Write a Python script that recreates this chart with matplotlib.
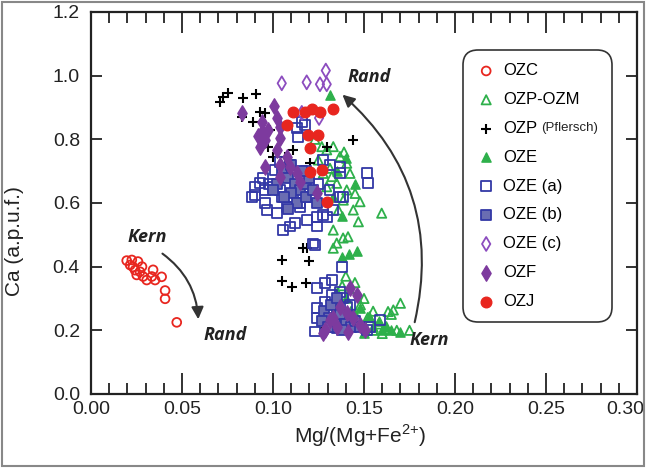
import matplotlib.pyplot as plt
import numpy as np
from matplotlib.patches import FancyArrowPatch, Rectangle
from matplotlib.ticker import MultipleLocator
from matplotlib.transforms import ScaledTranslation

plt.rcParams['font.family'] = ['Liberation Sans', 'DejaVu Sans']
plt.rcParams['mathtext.fontset'] = 'custom'
plt.rcParams['mathtext.rm'] = 'Liberation Sans'

# OZC - open red circles (Kern -> Rand, low Mg)
ozc_x = [0.0196, 0.0224, 0.0258, 0.0231, 0.0242, 0.0269, 0.0306, 0.0334, 0.0352,
         0.0388, 0.0341, 0.0407, 0.0407, 0.0471, 0.0251, 0.0286, 0.0280, 0.0215]
ozc_y = [0.419, 0.421, 0.416, 0.399, 0.389, 0.384, 0.358, 0.369, 0.358,
         0.368, 0.390, 0.325, 0.299, 0.225, 0.374, 0.369, 0.400, 0.405]

# OZP-OZM - open green triangles
ozpm_x = [0.1268, 0.1331, 0.1405, 0.1423, 0.1478, 0.1451, 0.1597, 0.1469, 0.1350,
          0.1386, 0.1295, 0.1323, 0.1276, 0.1405, 0.1359, 0.1441, 0.1331, 0.1295,
          0.1368, 0.1249, 0.1313, 0.1230, 0.1390,
          0.1412, 0.1331, 0.1350, 0.1385, 0.1661, 0.1632, 0.140, 0.145, 0.142,
          0.150, 0.148, 0.155, 0.152, 0.158, 0.162, 0.165, 0.168, 0.160, 0.155,
          0.147, 0.143, 0.138, 0.135, 0.175, 0.170]
ozpm_y = [0.777, 0.777, 0.725, 0.693, 0.604, 0.630, 0.568, 0.541, 0.662,
          0.609, 0.651, 0.683, 0.693, 0.641, 0.578, 0.578, 0.515, 0.767,
          0.746, 0.735, 0.709, 0.800, 0.760,
          0.494, 0.458, 0.474, 0.490, 0.264, 0.259, 0.37, 0.35, 0.33,
          0.30, 0.28, 0.26, 0.24, 0.22, 0.21, 0.25, 0.20, 0.19, 0.20,
          0.22, 0.26, 0.34, 0.27, 0.20, 0.285]

# OZP (Pflersch) - black plus
ozp_x = [0.0709, 0.0727, 0.0754, 0.0837, 0.0907, 0.0828, 0.0892, 0.0929, 0.0956,
         0.0984, 0.0974, 0.1002, 0.1066, 0.1084, 0.1112, 0.1203, 0.1295, 0.1441,
         0.1166, 0.1185, 0.1048, 0.1199, 0.1048, 0.1103, 0.1181, 0.1286]
ozp_y = [0.918, 0.934, 0.945, 0.929, 0.943, 0.871, 0.855, 0.887, 0.882,
         0.829, 0.777, 0.746, 0.746, 0.845, 0.767, 0.725, 0.777, 0.798,
         0.458, 0.459, 0.421, 0.419, 0.356, 0.337, 0.350, 0.206]

# OZE - filled green triangles
oze_x = [0.1313, 0.140, 0.135, 0.145, 0.138, 0.146, 0.142, 0.138, 0.133,
         0.150, 0.155, 0.160, 0.145, 0.140, 0.135, 0.148, 0.158, 0.165,
         0.170, 0.150, 0.153, 0.162]
oze_y = [0.939, 0.740, 0.700, 0.660, 0.560, 0.450, 0.440, 0.430, 0.620,
         0.220, 0.210, 0.200, 0.250, 0.300, 0.320, 0.270, 0.230, 0.200,
         0.195, 0.190, 0.245, 0.215]

# OZE (a) - open blue squares
ozea_x = [0.1130, 0.1176, 0.1137, 0.1276, 0.1313, 0.1368, 0.1368, 0.1515, 0.1038,
          0.1093, 0.1011, 0.0947, 0.0901, 0.0901, 0.0956, 0.1002, 0.1038, 0.0956,
          0.1020, 0.0965, 0.1075, 0.1112, 0.1148, 0.1203, 0.1240, 0.1185, 0.1121,
          0.1057, 0.1093, 0.1240, 0.1295, 0.1386, 0.1331, 0.1524, 0.1221, 0.0883,
          0.0929, 0.1158, 0.1368, 0.1276, 0.1148, 0.1050, 0.0980, 0.1100, 0.1180,
          0.1250, 0.1310,
          0.1231, 0.1377, 0.1323, 0.1286, 0.1240, 0.1323, 0.1368, 0.1286, 0.1240,
          0.1350, 0.1240, 0.1231, 0.1295, 0.1405, 0.1588, 0.1515, 0.1350, 0.1386,
          0.1423, 0.1331, 0.1533]
ozea_y = [0.835, 0.845, 0.808, 0.735, 0.719, 0.714, 0.694, 0.693, 0.730,
          0.719, 0.704, 0.678, 0.651, 0.625, 0.641, 0.651, 0.641, 0.599,
          0.568, 0.578, 0.588, 0.620, 0.588, 0.620, 0.557, 0.547, 0.536,
          0.515, 0.526, 0.526, 0.557, 0.620, 0.578, 0.662, 0.473, 0.620,
          0.662, 0.855, 0.620, 0.563, 0.599, 0.620, 0.660, 0.680, 0.700,
          0.660, 0.640,
          0.468, 0.400, 0.358, 0.348, 0.332, 0.311, 0.321, 0.290, 0.269,
          0.280, 0.238, 0.196, 0.254, 0.274, 0.232, 0.201, 0.206, 0.301,
          0.280, 0.211, 0.211]

# OZE (b) - filled blue squares
ozeb_x = [0.105, 0.108, 0.112, 0.115, 0.110, 0.118, 0.120, 0.102, 0.106, 0.113,
          0.118, 0.122, 0.116, 0.110, 0.100, 0.124, 0.108,
          0.128, 0.131, 0.134, 0.137, 0.140, 0.143, 0.132, 0.127, 0.138, 0.145,
          0.148, 0.135, 0.130]
ozeb_y = [0.70, 0.68, 0.66, 0.64, 0.63, 0.66, 0.68, 0.66, 0.62, 0.60,
          0.62, 0.64, 0.70, 0.72, 0.64, 0.60, 0.58,
          0.26, 0.24, 0.22, 0.25, 0.22, 0.21, 0.28, 0.23, 0.20, 0.23,
          0.21, 0.30, 0.21]

# OZE (c) - open purple diamonds
ozec_x = [0.1048, 0.1185, 0.1258, 0.1295, 0.1290, 0.1158, 0.1253]
ozec_y = [0.976, 0.979, 0.973, 0.973, 1.016, 0.883, 0.867]

# OZF - filled purple diamonds
ozf_x = [0.0828, 0.1005, 0.1020, 0.0938, 0.0938, 0.0973, 0.1038, 0.0956, 0.1038,
         0.1020, 0.1075, 0.0956, 0.1038, 0.1093, 0.1130, 0.1148, 0.1240, 0.1038,
         0.0918, 0.0929,
         0.1423, 0.1460, 0.1368, 0.1405, 0.1331, 0.1286, 0.1350, 0.1441, 0.1478,
         0.1412, 0.1505, 0.1313, 0.1276]
ozf_y = [0.882, 0.906, 0.867, 0.855, 0.824, 0.829, 0.840, 0.798, 0.804,
         0.767, 0.746, 0.714, 0.719, 0.714, 0.694, 0.667, 0.631, 0.683,
         0.809, 0.777,
         0.332, 0.311, 0.274, 0.254, 0.238, 0.201, 0.211, 0.238, 0.217,
         0.196, 0.201, 0.232, 0.192]

# OZJ - filled red circles
ozj_x = [0.1112, 0.1176, 0.1213, 0.1258, 0.1328, 0.1075, 0.1194, 0.1249, 0.1203,
         0.1203, 0.1268, 0.1295]
ozj_y = [0.887, 0.887, 0.894, 0.887, 0.894, 0.845, 0.814, 0.814, 0.772,
         0.697, 0.704, 0.604]

red = '#e8261f'
green = '#2eb04b'
blue = '#3338a6'
purple = '#8c4cbf'
dpurple = '#7d3a9e'
ink = '#222222'

fig = plt.figure(figsize=(6.46, 4.72), dpi=100)
ax = fig.add_axes([0.1409, 0.1653, 0.8452, 0.8093])

lw = 1.3
ax.scatter(ozc_x, ozc_y, s=40, marker='o', facecolors='none', edgecolors=red, linewidths=lw, label='OZC')
ax.scatter(ozpm_x, ozpm_y, s=44, marker='^', facecolors='none', edgecolors=green, linewidths=lw, label='OZP-OZM')
ax.scatter(ozp_x, ozp_y, s=55, marker='+', color='black', linewidths=1.5, label='OZP')
ax.scatter(oze_x, oze_y, s=44, marker='^', color=green, edgecolors=green, label='OZE')
ax.scatter(ozea_x, ozea_y, s=50, marker='s', facecolors='none', edgecolors=blue, linewidths=lw, label='OZE (a)')
ax.scatter(ozeb_x, ozeb_y, s=50, marker='s', facecolors='#6a6db2', edgecolors=blue, linewidths=lw, label='OZE (b)')
ax.scatter(ozec_x, ozec_y, s=50, marker='d', facecolors='none', edgecolors=purple, linewidths=lw, label='OZE (c)')
ax.scatter(ozf_x, ozf_y, s=62, marker='d', color=dpurple, edgecolors=dpurple, label='OZF')
ax.scatter(ozj_x, ozj_y, s=58, marker='o', color=red, edgecolors=red, label='OZJ')

ax.set_xlim(0, 0.30)
ax.set_ylim(0, 1.2)
ax.xaxis.set_major_locator(MultipleLocator(0.05))
ax.xaxis.set_minor_locator(MultipleLocator(0.01))
ax.yaxis.set_major_locator(MultipleLocator(0.2))
ax.xaxis.set_major_formatter(plt.FormatStrFormatter('%.2f'))
ax.yaxis.set_major_formatter(plt.FormatStrFormatter('%.1f'))
ax.tick_params(direction='in', top=True, right=True, which='both', labelsize=14, colors=ink)
ax.tick_params(axis='x', which='major', length=15, width=1.3, pad=5)
ax.tick_params(axis='x', which='minor', length=8, width=1.3)
ax.tick_params(axis='y', which='major', length=8, width=1.3, pad=8)
for sp in ax.spines.values():
    sp.set_linewidth(1.6)
    sp.set_color(ink)

ax.set_xlabel('Mg/(Mg+Fe$^{2{+}}$)', fontsize=15, color=ink)
ax.set_ylabel('Ca (a.p.u.f.)', fontsize=15, color=ink)
ax.xaxis.set_label_coords(0.493, -0.075)
ax.yaxis.set_label_coords(-0.122, 0.40)

# keep the last x tick label inside the figure
fig.canvas.draw()
for lab in ax.get_xticklabels():
    if lab.get_text() == '0.30':
        lab.set_ha('right')
        lab.set_transform(lab.get_transform() + ScaledTranslation(0.07, 0, fig.dpi_scale_trans))

# curved arrows and labels
akw = dict(arrowstyle='-|>', mutation_scale=18, lw=1.5, color='#333333')
ax.add_patch(FancyArrowPatch((0.038, 0.446), (0.059, 0.226),
                             connectionstyle='arc3,rad=-0.25', **akw))
ax.add_patch(FancyArrowPatch((0.1775, 0.217), (0.137, 0.946),
                             connectionstyle='arc3,rad=0.3', **akw))
tkw = dict(fontsize=13, style='italic', weight='bold', family=['Open Sans', 'DejaVu Sans'],
           color=ink, ha='center', va='center')
ax.text(0.031, 0.493, 'Kern', **tkw)
ax.text(0.0736, 0.185, 'Rand', **tkw)
ax.text(0.153, 0.996, 'Rand', **tkw)
ax.text(0.186, 0.17, 'Kern', **tkw)

leg = ax.legend(loc='upper left', bbox_to_anchor=(0.681, 0.0, 0.273, 0.9005), mode='expand',
                borderaxespad=0, fontsize=12, labelspacing=0.83, handletextpad=0.4,
                handlelength=1.2, borderpad=0.8, frameon=True, fancybox=True,
                scatterpoints=1)
fr = leg.get_frame()
fr.set_boxstyle('round,pad=0,rounding_size=0.9')
fr.set_edgecolor('#333333')
fr.set_linewidth(1.2)
fr.set_alpha(1)

# figure border
fig.patches.append(Rectangle((0.003, 0.0127), 0.994, 0.983, transform=fig.transFigure,
                             fill=False, edgecolor='#888888', lw=1.5))

# smaller "(Pflersch)" after OZP in legend
fig.canvas.draw()
r = fig.canvas.get_renderer()
for t in leg.get_texts():
    if t.get_text() == 'OZP':
        bb = t.get_window_extent(r)
        fig.text((bb.x1 + 4) / fig.bbox.width, (bb.y0 + 2) / fig.bbox.height, '(Pflersch)',
                 fontsize=9.5, color=ink, va='bottom', ha='left')

fig.savefig('out.png', dpi=100)
